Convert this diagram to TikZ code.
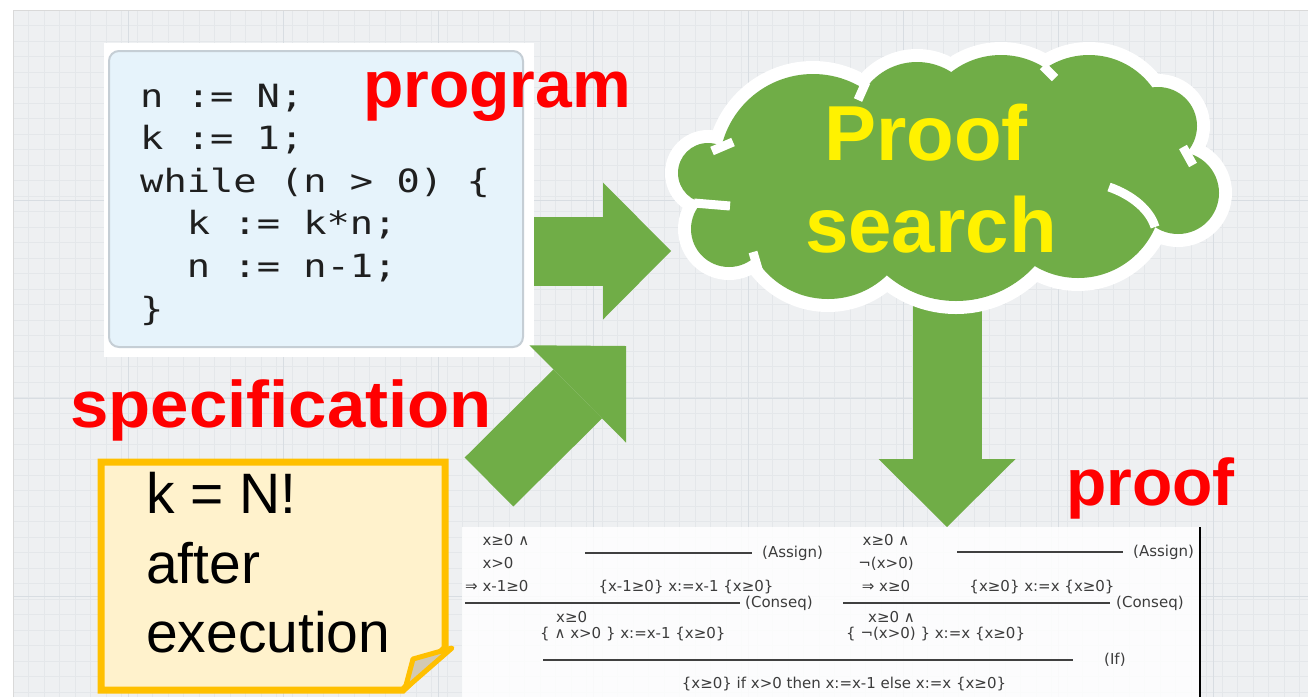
\documentclass[tikz,border=0pt]{standalone}
\usepackage{fontspec}
\setmainfont{Liberation Sans}
\newfontfamily\codefont{DejaVu Sans Mono}
\newfontfamily\prooffont{DejaVu Sans}
\usepackage{graphicx}
\usetikzlibrary{arrows.meta}

\definecolor{leafgreen}{HTML}{70AD47}
\definecolor{gridbg}{HTML}{EEF0F2}
\definecolor{gridminor}{HTML}{E4E7EA}
\definecolor{gridmajor}{HTML}{D8DDE2}
\definecolor{codeblue}{HTML}{E6F3FB}
\definecolor{codeedge}{HTML}{C5CED5}
\definecolor{notefill}{HTML}{FFF2CC}
\definecolor{noteedge}{HTML}{FFC000}
\definecolor{notefold}{HTML}{D2C9B4}
\definecolor{prooftext}{HTML}{3C3C3C}

\tikzset{
  redlabel/.style={text=red, font=\fontsize{66}{70}\selectfont\bfseries, inner sep=0pt, anchor=base west},
  codeline/.style={text=black!88, font=\fontsize{32}{36}\codefont, inner sep=0pt, anchor=base west},
  noteline/.style={text=black, font=\fontsize{57}{60}\selectfont, inner sep=0pt, anchor=base west},
  cloudword/.style={text=yellow, font=\fontsize{78}{80}\selectfont\bfseries, inner sep=0pt, anchor=base},
  bigarrow/.style={draw=leafgreen, line width=69pt, -{Triangle[length=68pt, width=137pt, line width=0pt]}},
  prooftxt/.style={text=prooftext, font=\fontsize{15}{23}\prooffont, inner sep=0pt},
  ruleline/.style={draw=black!75, line width=2.8pt},
  cloudtick/.style={draw=white, line width=9pt},
}

\begin{document}
\begin{tikzpicture}[x=1pt, y=-1pt]
\useasboundingbox (0,0) rectangle (1308,697);
\fill[white] (0,0) rectangle (1308,697);

% grid paper
\fill[gridbg] (13,10) rectangle (1308,697);
\foreach \gx in {28.5,44,...,1308} \draw[gridminor, line width=0.6pt] (\gx,10) -- (\gx,697);
\foreach \gy in {25.5,41,...,697} \draw[gridminor, line width=0.6pt] (13,\gy) -- (1308,\gy);
\foreach \gx in {128,283,...,1308} \draw[gridmajor, line width=0.8pt] (\gx,10) -- (\gx,697);
\foreach \gy in {200,398,596} \draw[gridmajor, line width=0.8pt] (13,\gy) -- (1308,\gy);
\draw[black!15, line width=1pt] (13,697) -- (13,10) -- (1308,10);

% program
\fill[white] (104,43) rectangle (534,357);
\node[draw=codeedge, fill=codeblue, line width=2pt, rounded corners=10pt, minimum width=414pt, minimum height=296pt, inner sep=0pt] (codebox) at (316,199) {};
\node[codeline] (line1) at (140,107) {\scalebox{1.21}[1]{n := N;}};
\node[codeline] (line2) at (140,149.6) {\scalebox{1.21}[1]{k := 1;}};
\node[codeline] (line3) at (140,192.2) {\scalebox{1.21}[1]{while (n > 0) \{}};
\node[codeline] (line4) at (140,234.8) {\scalebox{1.21}[1]{\hphantom{wh}k := k*n;}};
\node[codeline] (line5) at (140,277.4) {\scalebox{1.21}[1]{\hphantom{wh}n := n-1;}};
\node[codeline] (line6) at (140,320) {\scalebox{1.21}[1]{\}}};

\node[redlabel] (proglabel) at (363,107) {program};
\node[redlabel] (speclabel) at (70,427) {\scalebox{1.045}[1]{specification}};
\node[redlabel] (prooflabel) at (1066,505) {proof};

% block arrows
\coordinate (progtail) at (534,251);
\coordinate (progtip) at (671,251);
\coordinate (spectail) at (489,482);
\coordinate (spectip) at (626,346);
\coordinate (searchtail) at (947,300);
\coordinate (searchtip) at (947,527);
\draw[bigarrow] (progtail) -- (progtip);
\draw[bigarrow] (spectail) -- (spectip);
\draw[bigarrow] (searchtail) -- (searchtip);

% cloud: white rim first, then the green puffs
\foreach \cx/\cy/\r in {708/173/30, 813/168/94, 917/125/63, 1001/136/81, 1089/133/78, 1158/126/39, 1178/193/41, 1078/194/84, 956/195/106, 828/214/85, 729/229/38}
  \fill[white] (\cx,\cy) circle[radius=\r+13];
\foreach \cx/\cy/\r in {708/173/30, 813/168/94, 917/125/63, 1001/136/81, 1089/133/78, 1158/126/39, 1178/193/41, 1078/194/84, 956/195/106, 828/214/85, 729/229/38}
  \fill[leafgreen] (\cx,\cy) circle[radius=\r];
\draw[cloudtick] (1109,187) .. controls (1132,195) and (1150,210) .. (1155,227);
\draw[cloudtick] (694,203) -- (730,206);
\draw[cloudtick] (712,151) -- (733,142);
\draw[cloudtick] (753,252) -- (760,276);
\draw[cloudtick] (1183,147) -- (1193,165);
\draw[cloudtick] (866,82) -- (858,100);
\draw[cloudtick] (1043,66) -- (1055,78);
\node[cloudword] (proofword) at (926,160) {Proof};
\node[cloudword] (searchword) at (931,252) {search};

% proof tree
\fill[white, opacity=0.85] (462,527) rectangle (1200,697);
\draw[black, line width=2pt] (1200,527) -- (1200,697);
\node[prooftxt, align=left, anchor=west] (hypl) at (465,563) {\hphantom{⇒\ }x≥0 ∧\\\hphantom{⇒\ }x>0\\⇒ x-1≥0};
\draw[ruleline] (585,553) -- (752,553);
\node[prooftxt, anchor=west] (assignl) at (762,553) {(Assign)};
\node[prooftxt] (triplel) at (686,587) {\{x-1≥0\} x:=x-1 \{x≥0\}};
\node[prooftxt, align=center] (hypr) at (886,563) {x≥0 ∧\\¬(x>0)\\⇒ x≥0};
\draw[ruleline] (957,552) -- (1123,552);
\node[prooftxt, anchor=west] (assignr) at (1133,552) {(Assign)};
\node[prooftxt] (tripler) at (1042,587) {\{x≥0\} x:=x \{x≥0\}};
\draw[ruleline] (465,603) -- (740,603);
\node[prooftxt, anchor=west] (conseql) at (745,603) {(Conseq)};
\draw[ruleline] (843,603) -- (1110,603);
\node[prooftxt, anchor=west] (conseqr) at (1116,603) {(Conseq)};
\node[prooftxt, anchor=west] (condl) at (556,617) {x≥0};
\node[prooftxt, anchor=west] (midl) at (540,634) {\{ ∧ x>0 \} x:=x-1 \{x≥0\}};
\node[prooftxt, anchor=west] (condr) at (868,617) {x≥0 ∧};
\node[prooftxt, anchor=west] (midr) at (846,634) {\{ ¬(x>0) \} x:=x \{x≥0\}};
\draw[ruleline] (543,660) -- (1073,660);
\node[prooftxt, anchor=west] (iflabel) at (1104,660) {(If)};
\node[prooftxt] (goal) at (844,684) {\{x≥0\} if x>0 then x:=x-1 else x:=x \{x≥0\}};

% specification note
\filldraw[fill=notefill, draw=noteedge, line width=7pt] (101,462) -- (445,462) -- (445,648) -- (403,690) -- (101,690) -- cycle;
\filldraw[fill=notefold, draw=noteedge, line width=5pt, line join=round] (405,689) -- (413,659) -- (452,648) -- cycle;
\node[noteline] (post1) at (146,513) {k = N!};
\node[noteline] (post2) at (146,583) {after};
\node[noteline] (post3) at (146,652) {execution};
\end{tikzpicture}
\end{document}
